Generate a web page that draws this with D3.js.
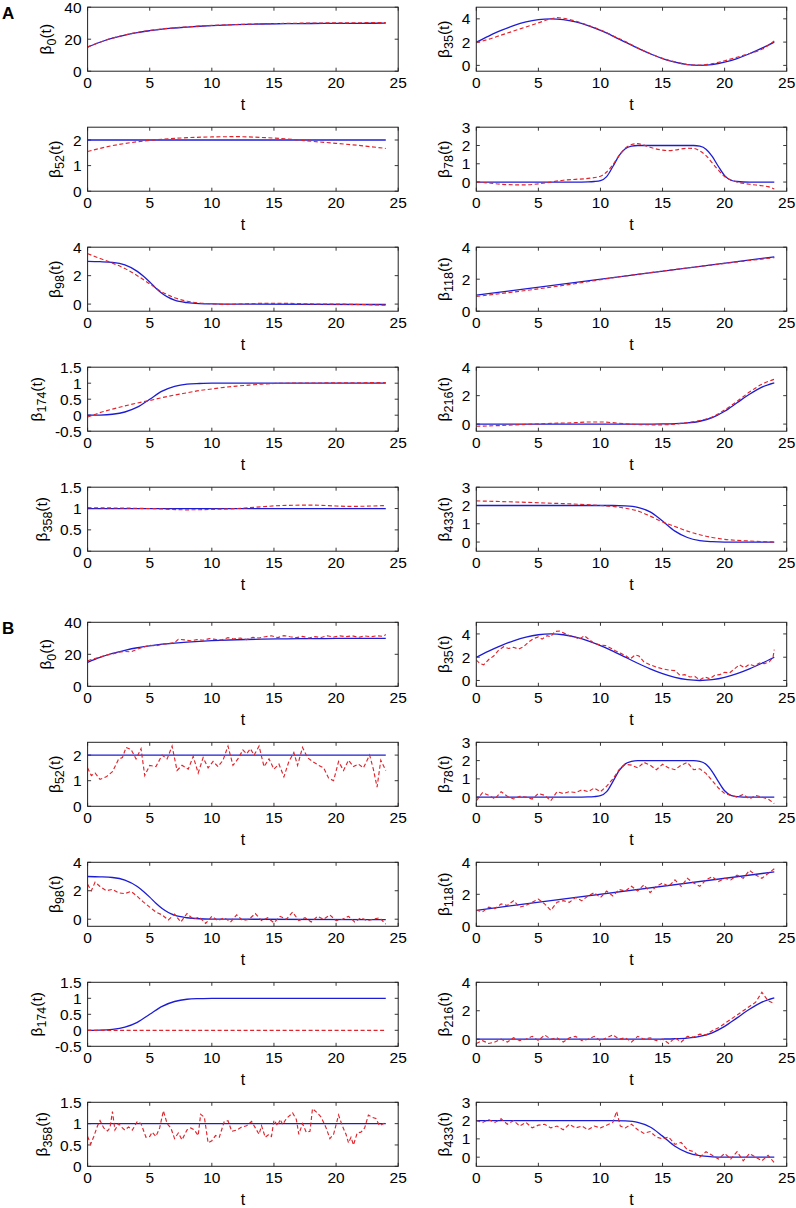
<!DOCTYPE html>
<html><head><meta charset="utf-8">
<script src="https://cdn.jsdelivr.net/npm/d3@7"></script>
<style>
body{margin:0;background:#fff}
svg{display:block}
text{font-family:"Liberation Sans",Arial,Helvetica,sans-serif;fill:#000}
</style>
</head><body>
<svg id="chart" width="796" height="1208"></svg>
<script>
// ---------------- DATA ----------------
const xTicks = [0,5,10,15,20,25];

// true coefficient functions (blue)
const trueB0 = [[0,15],[1,18.1],[2,20.6],[3,22.5],[4,24.1],[5,25.3],[6,26.3],[7,27],[8,27.6],[9,28.1],[10,28.5],[12,29.1],[14,29.5],[16,29.7],[18,29.8],[20,29.9],[22,29.95],[24,30]];
const trueB35 = [[0,2],[1,2.52],[2,3],[3,3.41],[4,3.73],[5,3.93],[6,4],[7,3.93],[8,3.73],[9,3.41],[10,3],[11,2.52],[12,2],[13,1.48],[14,1],[15,0.59],[16,0.27],[17,0.07],[18,0],[19,0.07],[20,0.27],[21,0.59],[22,1],[23,1.48],[24,2]];
const trueB52 = [[0,2],[24,2]];
const trueB78 = [[0,0],[8,0],[9,0.01],[9.5,0.03],[10,0.08],[10.5,0.3],[11,0.85],[11.5,1.45],[12,1.82],[12.5,1.96],[13,2],[17.5,2],[18,1.96],[18.5,1.8],[19,1.4],[19.5,0.85],[20,0.35],[20.5,0.1],[21,0.03],[22,0],[24,0]];
const trueB98 = [[0,3],[1,2.98],[2,2.93],[3,2.75],[4,2.3],[4.5,1.95],[5,1.55],[5.5,1.12],[6,0.75],[6.5,0.47],[7,0.28],[8,0.1],[9,0.03],[10,0.01],[12,0],[24,-0.03]];
const trueB118 = [[0,1],[24,3.4]];
const trueB174 = [[0,0],[1,0.005],[2,0.03],[3,0.1],[4,0.25],[5,0.5],[6,0.75],[7,0.9],[8,0.97],[9,0.99],[10,1],[24,1]];
const trueB216 = [[0,0],[14,0],[15,0.01],[16,0.03],[17,0.08],[18,0.2],[19,0.45],[20,0.9],[21,1.5],[22,2.1],[23,2.6],[24,2.9]];
const trueB358 = [[0,1],[24,1]];
const trueB433 = [[0,2],[11,2],[12,1.98],[13,1.9],[14,1.65],[15,1.15],[16,0.6],[17,0.25],[18,0.08],[19,0.02],[20,0],[24,0]];

// panel A estimates (red dashed, smooth)
const estA_B0 = [[0,15.2],[2,20.7],[4,24.2],[6,26.4],[8,27.7],[10,28.6],[12,29.2],[14,29.6],[16,29.9],[18,30.1],[20,30.2],[22,30.3],[24,30.4]];
const estA_B35 = [[0,1.95],[1,2.25],[2,2.6],[3,2.95],[4,3.3],[5,3.65],[6,4.0],[6.5,4.1],[7,4.05],[8,3.8],[9,3.45],[10,3.05],[11,2.55],[12,2.05],[13,1.5],[14,1.02],[15,0.6],[16,0.3],[17,0.08],[18,0.02],[19,0.15],[20,0.4],[21,0.7],[22,1.02],[23,1.38],[24,2.1]];
const estA_B52 = [[0,1.55],[2,1.78],[4,1.93],[6,2.03],[8,2.09],[10,2.12],[12,2.13],[14,2.1],[16,2.04],[18,1.95],[20,1.87],[22,1.78],[24,1.67]];
const estA_B78 = [[0,0],[1,-0.05],[2,-0.12],[3,-0.15],[4,-0.15],[5,-0.1],[6,0],[7,0.1],[8,0.15],[9,0.2],[10,0.32],[10.5,0.55],[11,0.95],[11.5,1.45],[12,1.85],[12.5,2.05],[13,2.1],[13.5,2.02],[14,1.9],[15,1.75],[15.5,1.72],[16,1.75],[17,1.85],[17.5,1.84],[18,1.7],[18.5,1.45],[19,1.05],[19.5,0.65],[20,0.3],[20.5,0.12],[21,0],[22,-0.12],[23,-0.2],[23.5,-0.25],[24,-0.38]];
const estA_B98 = [[0,3.55],[1,3.2],[2,2.88],[3,2.5],[4,2.0],[5,1.42],[6,0.85],[7,0.45],[8,0.2],[9,0.08],[10,0.02],[11,-0.02],[12,0],[14,0.05],[16,0.05],[18,0.01],[20,0],[22,-0.03],[24,-0.08]];
const estA_B118 = [[0,0.92],[6,1.5],[12,2.2],[18,2.8],[24,3.35]];
const estA_B174 = [[0,-0.06],[1,0.08],[2,0.19],[3,0.29],[4,0.38],[5,0.46],[6,0.55],[7,0.63],[8,0.7],[9,0.77],[10,0.82],[11,0.87],[12,0.91],[13,0.94],[14,0.97],[15,0.99],[16,1.0],[20,1.01],[24,1.02]];
const estA_B216 = [[0,-0.15],[2,-0.1],[4,-0.02],[6,0.05],[8,0.1],[9,0.15],[10,0.15],[11,0.1],[12,0.02],[14,-0.05],[15,-0.05],[16,0],[17,0.1],[18,0.25],[19,0.5],[20,1.0],[21,1.6],[22,2.25],[23,2.8],[24,3.15]];
const estA_B358 = [[0,1.02],[3,1.01],[5,1.0],[8,0.97],[10,0.98],[12,1.0],[13,1.02],[14,1.04],[15.5,1.07],[18,1.08],[20,1.06],[21,1.05],[23,1.06],[24,1.07]];
const estA_B433 = [[0,2.25],[5,2.15],[10,2.0],[11,1.95],[12,1.85],[13,1.7],[14,1.42],[15,1.1],[16,0.85],[17,0.6],[18,0.4],[19,0.25],[20,0.15],[22,0.06],[24,0]];

// panel B estimates (red dashed, noisy)
const estB_B0 = [[0,16],[0.5,17.2],[1,18.3],[1.5,19.5],[2,20.2],[2.5,21.3],[3,21.8],[3.5,21.5],[4,23.2],[4.5,24.5],[5,25.6],[5.5,25.2],[6,26.3],[6.5,26.8],[7,27.2],[7.3,29.4],[7.8,29],[8.3,28.4],[8.8,29.2],[9.3,28.8],[9.8,29.8],[10.3,29.3],[10.8,29],[11.3,30.4],[11.8,29.6],[12.3,30.2],[12.8,29.2],[13.3,30.6],[13.8,30.2],[14.3,31],[14.8,31.6],[15.3,30.4],[15.8,31.7],[16.3,31],[16.8,30.4],[17.3,31.2],[17.8,30.2],[18.3,31],[18.8,30.5],[19.3,31.6],[19.8,30.8],[20.3,31.5],[20.8,31],[21.3,31.6],[21.8,30.6],[22.3,31.5],[22.8,31],[23.3,31.6],[23.8,31.2],[24,32.4]];
const estB_B35 = [[0,1.75],[0.3,1.45],[0.6,1.35],[1,1.8],[1.4,2.1],[1.8,2.6],[2.2,2.9],[2.6,2.75],[3,2.85],[3.4,2.7],[3.8,2.9],[4.2,3.3],[4.6,3.6],[5,3.75],[5.3,3.55],[5.7,3.85],[6,3.75],[6.3,4.2],[6.7,4.25],[7.1,4.05],[7.5,3.85],[7.9,3.75],[8.3,3.55],[8.7,3.85],[9.1,3.5],[9.5,3.2],[10,3.05],[10.4,3.0],[10.8,2.8],[11.2,2.55],[11.6,2.35],[12,2.15],[12.4,1.85],[12.8,2.2],[13.1,2.1],[13.5,1.6],[14,1.35],[14.5,1.15],[15,1.0],[15.5,0.9],[16,0.85],[16.4,0.45],[16.8,0.5],[17.2,0.3],[17.6,0.35],[18,0.05],[18.4,0.3],[18.8,0.15],[19.2,0.45],[19.6,0.5],[20,0.7],[20.4,0.65],[20.8,1.0],[21.2,1.35],[21.6,1.1],[22,1.4],[22.4,1.25],[22.8,1.5],[23.2,1.45],[23.6,1.6],[23.9,2.0],[24,2.65]];
const estB_B52 = [[0,1.5],[0.3,1.2],[0.6,1.3],[1,1.05],[1.5,1.15],[2,1.35],[2.5,1.85],[2.8,1.9],[3.1,2.3],[3.5,2.22],[3.9,1.85],[4.3,2.25],[4.6,1.2],[5,1.6],[5.5,1.55],[6,2.0],[6.4,1.85],[6.8,2.35],[7.2,1.4],[7.6,1.6],[8.1,1.45],[8.5,1.95],[8.9,1.3],[9.3,1.9],[9.7,1.5],[10.1,1.75],[10.5,1.55],[10.9,1.8],[11.3,2.35],[11.7,1.6],[12.1,1.85],[12.5,2.2],[12.8,2.05],[13.1,2.25],[13.4,2.0],[13.8,2.35],[14.2,1.55],[14.6,1.85],[15,1.45],[15.4,1.65],[15.8,1.15],[16.2,1.75],[16.6,2.1],[16.9,1.6],[17.3,2.3],[17.7,1.9],[18.1,1.75],[18.6,1.6],[19,1.5],[19.4,1.1],[19.8,1.0],[20.2,1.75],[20.6,1.4],[21,1.8],[21.4,1.55],[21.8,1.65],[22.2,1.5],[22.7,2.0],[23,1.45],[23.3,0.75],[23.6,1.8],[24,1.4]];
const estB_B78 = [[0,-0.2],[0.5,0.25],[1,0.1],[1.5,-0.1],[2,0.3],[2.5,0.05],[3,-0.1],[3.5,0.05],[4,0],[4.5,-0.1],[5,0.2],[5.5,0.1],[6,-0.2],[6.5,0.3],[7,0.2],[7.5,0.3],[8,0.25],[8.5,0.4],[9,0.3],[9.5,0.5],[10,0.3],[10.5,0.6],[11,1.0],[11.5,1.5],[12,1.8],[12.5,1.75],[13,1.6],[13.5,1.9],[14,1.75],[14.5,1.5],[15,1.8],[15.5,1.6],[16,1.5],[16.5,1.75],[17,1.9],[17.5,1.5],[18,1.55],[18.5,1.3],[19,0.9],[19.5,0.5],[20,0.2],[20.5,0.1],[21,0],[21.5,0.15],[22,-0.1],[22.5,0.1],[23,0],[23.5,-0.1],[24,-0.35]];
const estB_B98 = [[0,2.45],[0.3,2.0],[0.6,2.6],[1,2.3],[1.5,2.0],[2,2.1],[2.5,1.85],[3,1.8],[3.5,1.95],[4,1.6],[4.5,1.2],[5,0.85],[5.5,0.5],[6,0.3],[6.5,-0.05],[7,0.35],[7.5,-0.2],[8,0.4],[8.5,0],[9,0.15],[9.5,-0.3],[10,0.2],[10.5,-0.1],[11,0.1],[11.5,-0.2],[12,0.3],[12.5,-0.1],[13,0],[13.5,0.4],[14,-0.1],[14.5,0.1],[15,-0.25],[15.5,0.2],[16,0],[16.5,0.5],[17,-0.1],[17.5,0.1],[18,-0.2],[18.5,0.2],[19,0],[19.5,0.3],[20,-0.1],[20.5,0],[21,0.2],[21.5,-0.2],[22,0.1],[22.5,-0.1],[23,0],[23.5,0.1],[24,-0.35]];
const estB_B118 = [[0,1.0],[0.5,0.9],[1,1.2],[1.5,1.1],[2,1.4],[2.5,1.3],[3,1.6],[3.5,1.2],[4,1.3],[4.5,1.5],[5,1.7],[5.5,1.4],[6,1.0],[6.5,1.5],[7,1.6],[7.5,1.5],[8,1.8],[8.5,1.6],[9,1.9],[9.5,2.1],[10,1.8],[10.5,2.2],[11,1.9],[11.5,2.3],[12,2.2],[12.5,2.5],[13,2.2],[13.5,2.6],[14,2.1],[14.5,2.5],[15,2.7],[15.5,2.5],[16,2.9],[16.5,2.5],[17,3.0],[17.5,2.7],[18,2.5],[18.5,2.9],[19,3.1],[19.5,2.8],[20,3.0],[20.5,2.9],[21,3.2],[21.5,3.0],[22,3.5],[22.5,3.2],[23,3.0],[23.5,3.3],[24,3.6]];
const estB_B174 = [[0,0],[24,0]];
const estB_B216 = [[0,-0.3],[0.5,-0.1],[1,-0.3],[1.5,-0.2],[2,0],[2.5,-0.2],[3,0.1],[3.5,-0.1],[4,0],[4.5,0.2],[5,-0.1],[5.5,0.3],[6,0],[6.5,0.1],[7,-0.2],[7.5,0.1],[8,0.2],[8.5,-0.1],[9,0],[9.5,0.2],[10,-0.1],[10.5,0.1],[11,0.3],[11.5,0],[12,0.1],[12.5,-0.2],[13,0.2],[13.5,0],[14,0.1],[14.5,-0.1],[15,0],[15.5,-0.3],[16,0.1],[16.5,-0.2],[17,0.2],[17.5,0.15],[18,0.35],[18.5,0.3],[19,0.6],[19.5,0.8],[20,1.1],[20.5,1.4],[21,1.7],[21.5,2.0],[22,2.3],[22.5,2.6],[23,3.3],[23.5,2.7],[24,2.5]];
const estB_B358 = [[0,0.7],[0.25,0.52],[0.5,0.7],[0.8,0.95],[1.0,1.07],[1.3,0.9],[1.6,0.83],[1.8,0.9],[2.0,1.28],[2.2,0.85],[2.5,1.0],[2.8,0.9],[3.0,0.85],[3.3,0.92],[3.6,0.85],[4.0,1.05],[4.3,1.0],[4.7,0.68],[5.0,0.7],[5.2,0.8],[5.5,0.7],[5.8,0.9],[6.1,1.3],[6.4,1.0],[6.7,0.9],[7.0,0.65],[7.3,0.78],[7.6,0.62],[8.0,0.85],[8.3,0.9],[8.6,0.85],[8.9,0.72],[9.1,1.22],[9.4,1.15],[9.7,0.55],[10.0,0.6],[10.3,0.72],[10.6,0.68],[11.0,1.05],[11.3,1.07],[11.6,0.82],[12.0,0.85],[12.4,0.92],[12.8,0.95],[13.2,1.05],[13.5,0.9],[13.8,0.75],[14.0,0.95],[14.3,0.68],[14.6,0.75],[14.8,0.7],[15.0,1.08],[15.3,0.95],[15.5,1.1],[15.7,0.98],[16.0,1.12],[16.5,1.25],[16.8,1.1],[17.0,0.75],[17.3,1.0],[17.6,0.8],[17.9,0.82],[18.1,1.35],[18.5,1.25],[18.8,1.15],[19.2,0.9],[19.5,0.65],[19.8,0.75],[20.2,1.2],[20.5,0.95],[20.8,0.75],[21.0,0.55],[21.2,0.68],[21.4,0.5],[21.7,0.78],[22.0,0.8],[22.3,0.9],[22.6,1.2],[22.9,1.15],[23.2,1.12],[23.5,0.95],[23.8,1.0],[24.0,1.02]];
const estB_B433 = [[0,2.0],[0.5,1.9],[1,2.05],[1.5,1.9],[2,2.1],[2.5,1.8],[3,2.0],[3.5,1.7],[4,1.9],[4.5,1.6],[5,1.75],[5.5,1.8],[6,1.6],[6.5,1.7],[7,1.5],[7.5,1.8],[8,1.6],[8.5,1.7],[9,1.5],[9.5,1.7],[10,1.6],[10.5,1.75],[11,1.9],[11.3,2.5],[11.6,1.7],[12,1.6],[12.5,1.8],[13,1.5],[13.5,1.3],[14,1.4],[14.5,1.1],[15,1.0],[15.5,1.1],[16,0.7],[16.5,0.8],[17,0.4],[17.5,0.3],[18,0],[18.5,0.3],[19,0.1],[19.5,-0.1],[20,0.2],[20.5,-0.1],[21,0.3],[21.5,-0.2],[22,0.2],[22.5,0],[23,-0.2],[23.5,0.1],[24,-0.3]];

// coefficient labels, y domains and y tick values
const coefSub   = ["0","35","52","78","98","118","174","216","358","433"];
const yDomains  = [[0,40],[-0.5,5],[0,2.5],[-0.5,3],[-0.5,4],[0,4],[-0.5,1.5],[-0.5,4],[0,1.5],[-0.5,3]];
const yTickVals = [[0,20,40],[0,2,4],[0,1,2],[0,1,2,3],[0,2,4],[0,2,4],[-0.5,0,0.5,1,1.5],[0,2,4],[0,0.5,1,1.5],[0,1,2,3]];
const trueSeries = [trueB0,trueB35,trueB52,trueB78,trueB98,trueB118,trueB174,trueB216,trueB358,trueB433];
const estASeries = [estA_B0,estA_B35,estA_B52,estA_B78,estA_B98,estA_B118,estA_B174,estA_B216,estA_B358,estA_B433];
const estBSeries = [estB_B0,estB_B35,estB_B52,estB_B78,estB_B98,estB_B118,estB_B174,estB_B216,estB_B358,estB_B433];
const sectionLabels = ["A","B"];

// ---------------- DRAW ----------------
const svg = d3.select("#chart");
const colX = [[87.6,398.2],[476.3,786.7]];
const sectionTop = [7.2, 622.3];
const rowStep = 120, plotH = 64;
const BLUE = "#1c1cd6", RED = "#e0242c";

sectionLabels.forEach((lab, s) => {
  svg.append("text").attr("x", 2).attr("y", sectionTop[s] + 11.5)
    .attr("font-size", 17).attr("font-weight", "bold").text(lab);
});

let clipId = 0;
function panel(s, i) {
  const col = i % 2, row = Math.floor(i / 2);
  const [x0, x1] = colX[col];
  const top = sectionTop[s] + row * rowStep, bot = top + plotH;
  const x = d3.scaleLinear().domain([0,25]).range([x0,x1]);
  const y = d3.scaleLinear().domain(yDomains[i]).range([bot, top]);
  const g = svg.append("g");
  const id = "clip" + (clipId++);
  g.append("clipPath").attr("id", id).append("rect")
    .attr("x", x0).attr("y", top).attr("width", x1 - x0).attr("height", plotH);

  const tl = 3.5;
  const ax = g.append("g").attr("stroke", "#222").attr("stroke-width", 0.9);
  xTicks.forEach(v => {
    ax.append("line").attr("x1", x(v)).attr("x2", x(v)).attr("y1", bot).attr("y2", bot - tl);
    ax.append("line").attr("x1", x(v)).attr("x2", x(v)).attr("y1", top).attr("y2", top + tl);
  });
  yTickVals[i].forEach(v => {
    ax.append("line").attr("x1", x0).attr("x2", x0 + tl).attr("y1", y(v)).attr("y2", y(v));
    ax.append("line").attr("x1", x1).attr("x2", x1 - tl).attr("y1", y(v)).attr("y2", y(v));
  });

  const line = d3.line().x(d => x(d[0])).y(d => y(d[1]));
  const lg = g.append("g").attr("clip-path", `url(#${id})`);
  lg.append("path").datum(trueSeries[i])
    .attr("d", line.curve(d3.curveMonotoneX))
    .attr("fill", "none").attr("stroke", BLUE).attr("stroke-width", 1.3);
  const est = s === 0 ? estASeries[i] : estBSeries[i];
  lg.append("path").datum(est)
    .attr("d", line.curve(s === 0 ? d3.curveMonotoneX : d3.curveLinear))
    .attr("fill", "none").attr("stroke", RED).attr("stroke-width", 1.15)
    .attr("stroke-dasharray", "4,2.5");

  g.append("rect").attr("x", x0).attr("y", top).attr("width", x1 - x0).attr("height", plotH)
    .attr("fill", "none").attr("stroke", "#222").attr("stroke-width", 1);

  xTicks.forEach(v => {
    g.append("text").attr("x", x(v)).attr("y", bot + 16.5).attr("text-anchor", "middle")
      .attr("font-size", 15.5).text(v);
  });
  let maxW = 0;
  yTickVals[i].forEach(v => {
    const t = g.append("text").attr("x", x0 - 6).attr("y", y(v)).attr("dy", "0.36em")
      .attr("text-anchor", "end").attr("font-size", 15.5).text(String(v));
    maxW = Math.max(maxW, t.node().getComputedTextLength());
  });
  g.append("text").attr("x", (x0 + x1) / 2).attr("y", bot + 39).attr("text-anchor", "middle")
    .attr("font-size", 16).text("t");
  const lx = x0 - 6 - maxW - 13;
  const yl = g.append("text").attr("transform", `translate(${lx},${(top + bot) / 2}) rotate(-90)`)
    .attr("text-anchor", "middle").attr("font-size", 15.5);
  yl.append("tspan").text("β");
  yl.append("tspan").attr("dy", 4.5).attr("font-size", 12.5).text(coefSub[i]);
  yl.append("tspan").attr("dy", -4.5).text("(t)");
}

for (let s = 0; s < 2; s++) for (let i = 0; i < 10; i++) panel(s, i);
</script>
</body></html>
